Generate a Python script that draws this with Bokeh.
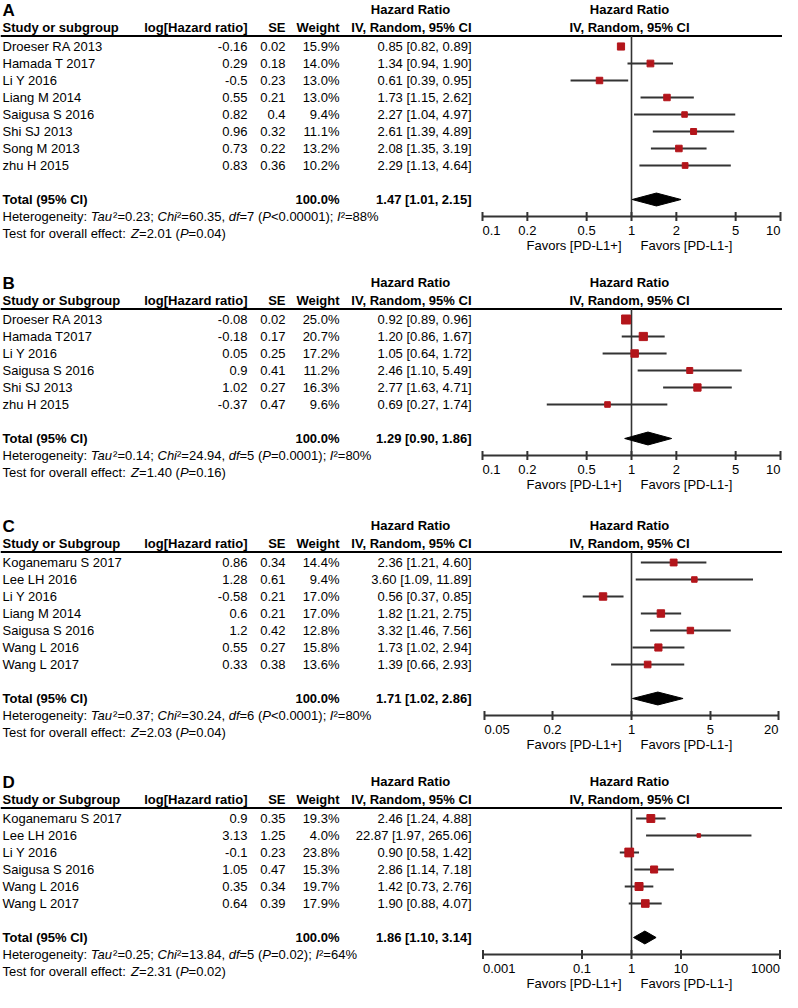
import math
from bokeh.plotting import figure
from bokeh.layouts import column
from bokeh.models import Range1d, LogScale, ColumnDataSource
from bokeh.core.properties import value
from bokeh.embed import file_html
from bokeh.resources import INLINE

# ------------------------------------------------------------------ data
A_studies = ["Droeser RA 2013", "Hamada T 2017", "Li Y 2016", "Liang M 2014",
             "Saigusa S 2016", "Shi SJ 2013", "Song M 2013", "zhu H 2015"]
A_loghr = [-0.16, 0.29, -0.5, 0.55, 0.82, 0.96, 0.73, 0.83]
A_se = [0.02, 0.18, 0.23, 0.21, 0.4, 0.32, 0.22, 0.36]
A_weight = [15.9, 14.0, 13.0, 13.0, 9.4, 11.1, 13.2, 10.2]
A_hr = [0.85, 1.34, 0.61, 1.73, 2.27, 2.61, 2.08, 2.29]
A_lo = [0.82, 0.94, 0.39, 1.15, 1.04, 1.39, 1.35, 1.13]
A_hi = [0.89, 1.90, 0.95, 2.62, 4.97, 4.89, 3.19, 4.64]
A_total = [1.47, 1.01, 2.15]
A_het = ["0.23", "60.35", "7", "<0.00001", "88"]
A_test = ["2.01", "=0.04"]
A_ticks = [0.1, 0.2, 0.5, 1, 2, 5, 10]
A_ticklabels = ["0.1", "0.2", "0.5", "1", "2", "5", "10"]

B_studies = ["Droeser RA 2013", "Hamada T2017", "Li Y 2016", "Saigusa S 2016",
             "Shi SJ 2013", "zhu H 2015"]
B_loghr = [-0.08, -0.18, 0.05, 0.9, 1.02, -0.37]
B_se = [0.02, 0.17, 0.25, 0.41, 0.27, 0.47]
B_weight = [25.0, 20.7, 17.2, 11.2, 16.3, 9.6]
B_hr = [0.92, 1.20, 1.05, 2.46, 2.77, 0.69]
B_lo = [0.89, 0.86, 0.64, 1.10, 1.63, 0.27]
B_hi = [0.96, 1.67, 1.72, 5.49, 4.71, 1.74]
B_total = [1.29, 0.90, 1.86]
B_het = ["0.14", "24.94", "5", "=0.0001", "80"]
B_test = ["1.40", "=0.16"]
B_ticks = [0.1, 0.2, 0.5, 1, 2, 5, 10]
B_ticklabels = ["0.1", "0.2", "0.5", "1", "2", "5", "10"]

C_studies = ["Koganemaru S 2017", "Lee LH 2016", "Li Y 2016", "Liang M 2014",
             "Saigusa S 2016", "Wang L 2016", "Wang L 2017"]
C_loghr = [0.86, 1.28, -0.58, 0.6, 1.2, 0.55, 0.33]
C_se = [0.34, 0.61, 0.21, 0.21, 0.42, 0.27, 0.38]
C_weight = [14.4, 9.4, 17.0, 17.0, 12.8, 15.8, 13.6]
C_hr = [2.36, 3.60, 0.56, 1.82, 3.32, 1.73, 1.39]
C_lo = [1.21, 1.09, 0.37, 1.21, 1.46, 1.02, 0.66]
C_hi = [4.60, 11.89, 0.85, 2.75, 7.56, 2.94, 2.93]
C_total = [1.71, 1.02, 2.86]
C_het = ["0.37", "30.24", "6", "<0.0001", "80"]
C_test = ["2.03", "=0.04"]
C_ticks = [0.05, 0.2, 1, 5, 20]
C_ticklabels = ["0.05", "0.2", "1", "5", "20"]

D_studies = ["Koganemaru S 2017", "Lee LH 2016", "Li Y 2016", "Saigusa S 2016",
             "Wang L 2016", "Wang L 2017"]
D_loghr = [0.9, 3.13, -0.1, 1.05, 0.35, 0.64]
D_se = [0.35, 1.25, 0.23, 0.47, 0.34, 0.39]
D_weight = [19.3, 4.0, 23.8, 15.3, 19.7, 17.9]
D_hr = [2.46, 22.87, 0.90, 2.86, 1.42, 1.90]
D_lo = [1.24, 1.97, 0.58, 1.14, 0.73, 0.88]
D_hi = [4.88, 265.06, 1.42, 7.18, 2.76, 4.07]
D_total = [1.86, 1.10, 3.14]
D_het = ["0.25", "13.84", "5", "=0.02", "64"]
D_test = ["2.31", "=0.02"]
D_ticks = [0.001, 0.1, 1, 10, 1000]
D_ticklabels = ["0.001", "0.1", "1", "10", "1000"]

# ------------------------------------------------------------------ style / layout
FONT = "Liberation Sans"
FS = "13px"
RED = "#b3151b"
GREY = "#333333"
P = 17.0            # row pitch in px
X1 = 639            # page x of HR = 1
X0, XE = 8, 790     # page x extent of figures
ROW0 = [54, 327, 570, 826]          # page y of first study row per panel
BOUNDS = [8, 278, 520, 776, 1000]   # page y panel boundaries
DECADE = [149, 149, 113, 49.5]      # px per decade in each forest

# Arial / Liberation Sans advance widths (per 1000 em)
AW = {' ': 278, '(': 333, ')': 333, ',': 278, '-': 333, '.': 278, ':': 278, ';': 278,
      '<': 584, '=': 584, '%': 889, '²': 333, 'A': 667, 'C': 722, 'D': 722, 'E': 667,
      'H': 722, 'I': 278, 'P': 667, 'T': 611, 'Z': 611, 'a': 556, 'c': 500, 'd': 556,
      'e': 556, 'f': 278, 'g': 556, 'h': 556, 'i': 222, 'l': 222, 'n': 556, 'o': 556,
      'r': 333, 's': 500, 't': 278, 'u': 556, 'v': 500, 'y': 500}


def tw(s, px=13):
    return sum(AW.get(c, 556) for c in s) * px / 1000.0


def txt(**kw):
    base = dict(text_font=value(FONT), text_font_size=FS, text_baseline="middle",
                text_color="black")
    base.update(kw)
    return base


def runs_text(p, x0, y, runs):
    xs_n, ts_n, xs_i, ts_i = [], [], [], []
    x = x0
    for s, it in runs:
        if it:
            xs_i.append(x); ts_i.append(s)
        else:
            xs_n.append(x); ts_n.append(s)
        x += tw(s)
    p.text(x=xs_n, y=[y] * len(xs_n), text=ts_n, **txt(text_align="left"))
    p.text(x=xs_i, y=[y] * len(xs_i), text=ts_i, **txt(text_align="left", text_font_style="italic"))


def panel(i, letter, study_hdr, names, loghr, se, w, hr, lo, hi, total, het, test,
          ticks, ticklabels):
    k = len(names)
    top, bot = BOUNDS[i], BOUNDS[i + 1]
    r0 = ROW0[i]
    d = DECADE[i]
    p = figure(width=XE - X0, height=bot - top, output_backend="svg", toolbar_location=None,
               x_range=Range1d(X0, XE), y_range=Range1d((bot - r0) / P, (top - r0) / P),
               x_axis_location=None, y_axis_location=None, min_border=0, title=None)
    p.extra_x_ranges = {"hr": Range1d(10 ** ((X0 - X1) / d), 10 ** ((XE - X1) / d))}
    p.extra_x_scales = {"hr": LogScale()}
    p.xgrid.visible = False
    p.ygrid.visible = False
    p.outline_line_color = None

    ys = list(range(k))
    src = ColumnDataSource(dict(
        y=ys, name=names,
        lhr=[f"{v:g}" for v in loghr], se=[f"{v:g}" for v in se],
        w=[f"{v:.1f}%" for v in w],
        hrt=[f"{a:.2f} [{b:.2f}, {c:.2f}]" for a, b, c in zip(hr, lo, hi)],
        hr=hr, lo=lo, hi=hi, size=[1.8 * math.sqrt(v) for v in w]))

    # headers
    yl, yh1, yh2 = -2.1, -2.15, -1.1
    p.text(x=[10], y=[yl], text=[letter], **txt(text_font_size="17px", text_font_style="bold"))
    p.text(x=[418], y=[yh1], text=["Hazard Ratio"], **txt(text_align="center", text_font_style="bold"))
    p.text(x=[1], y=[yh1], text=["Hazard Ratio"], x_range_name="hr", x_offset=-2,
           **txt(text_align="center", text_font_style="bold"))
    p.text(x=[10], y=[yh2], text=[study_hdr], **txt(text_font_style="bold"))
    p.text(x=[255, 293, 347, 479], y=[yh2] * 4,
           text=["log[Hazard ratio]", "SE", "Weight", "IV, Random, 95% CI"],
           **txt(text_align="right", text_font_style="bold"))
    p.text(x=[1], y=[yh2], text=["IV, Random, 95% CI"], x_range_name="hr", x_offset=-2,
           **txt(text_align="center", text_font_style="bold"))
    yline = -0.62
    p.segment(x0=[X0], x1=[XE], y0=[yline], y1=[yline], line_color="black", line_width=2)

    # study rows
    p.text(x=10, y="y", text="name", source=src, **txt(text_align="left"))
    p.text(x=255, y="y", text="lhr", source=src, **txt(text_align="right"))
    p.text(x=293, y="y", text="se", source=src, **txt(text_align="right"))
    p.text(x=347, y="y", text="w", source=src, **txt(text_align="right"))
    p.text(x=479, y="y", text="hrt", source=src, **txt(text_align="right"))

    # total
    yt = k + 1
    p.text(x=[10], y=[yt], text=["Total (95% CI)"], **txt(text_font_style="bold"))
    p.text(x=[347], y=[yt], text=["100.0%"], **txt(text_align="right", text_font_style="bold"))
    p.text(x=[479], y=[yt], text=[f"{total[0]:.2f} [{total[1]:.2f}, {total[2]:.2f}]"],
           **txt(text_align="right", text_font_style="bold"))

    runs_text(p, 10, k + 2, [("Heterogeneity: ", False), ("Tau", True), (f"²={het[0]}; ", False),
                             ("Chi", True), (f"²={het[1]}, ", False), ("df", True),
                             (f"={het[2]} (", False), ("P", True), (f"{het[3]}); ", False),
                             ("I", True), (f"²={het[4]}%", False)])
    runs_text(p, 10, k + 3, [("Test for overall effect: ", False), ("Z", True),
                             (f"={test[0]} (", False), ("P", True), (f"{test[1]})", False)])

    # forest
    yax = k + 2.0
    p.segment(x0=[1], x1=[1], y0=[yline], y1=[yax], x_range_name="hr",
              line_color=GREY, line_width=1.6)
    p.segment(x0="lo", x1="hi", y0="y", y1="y", source=src, x_range_name="hr",
              line_color=GREY, line_width=2)
    p.scatter(x="hr", y="y", size="size", marker="square", source=src, x_range_name="hr",
              fill_color=RED, line_color=RED)
    h = 0.38
    p.patch(x=[total[1], total[0], total[2], total[0]], y=[yt, yt - h, yt, yt + h],
            x_range_name="hr", fill_color="black", line_color="black")

    p.segment(x0=[ticks[0]], x1=[ticks[-1]], y0=[yax], y1=[yax], x_range_name="hr",
              line_color=GREY, line_width=2)
    p.segment(x0=ticks, x1=ticks, y0=[yax - 0.27] * len(ticks), y1=[yax + 0.27] * len(ticks),
              x_range_name="hr", line_color=GREY, line_width=2)
    aligns = ["left"] + ["center"] * (len(ticks) - 2) + ["right"]
    tsrc = ColumnDataSource(dict(x=ticks, y=[k + 2.8] * len(ticks), t=ticklabels, a=aligns))
    p.text(x="x", y="y", text="t", text_align="a", source=tsrc, x_range_name="hr",
           text_font=value(FONT), text_font_size=FS, text_baseline="middle", text_color="black")
    p.text(x=[1], y=[k + 3.72], text=["Favors [PD-L1+]"], x_range_name="hr", x_offset=-10,
           **txt(text_align="right"))
    p.text(x=[1], y=[k + 3.72], text=["Favors [PD-L1-]"], x_range_name="hr", x_offset=9,
           **txt(text_align="left"))
    return p


figs = [
    panel(0, "A", "Study or subgroup", A_studies, A_loghr, A_se, A_weight, A_hr, A_lo, A_hi,
          A_total, A_het, A_test, A_ticks, A_ticklabels),
    panel(1, "B", "Study or Subgroup", B_studies, B_loghr, B_se, B_weight, B_hr, B_lo, B_hi,
          B_total, B_het, B_test, B_ticks, B_ticklabels),
    panel(2, "C", "Study or Subgroup", C_studies, C_loghr, C_se, C_weight, C_hr, C_lo, C_hi,
          C_total, C_het, C_test, C_ticks, C_ticklabels),
    panel(3, "D", "Study or Subgroup", D_studies, D_loghr, D_se, D_weight, D_hr, D_lo, D_hi,
          D_total, D_het, D_test, D_ticks, D_ticklabels),
]

layout = column(*figs, spacing=0)
open("out.html", "w").write(file_html(layout, INLINE))
